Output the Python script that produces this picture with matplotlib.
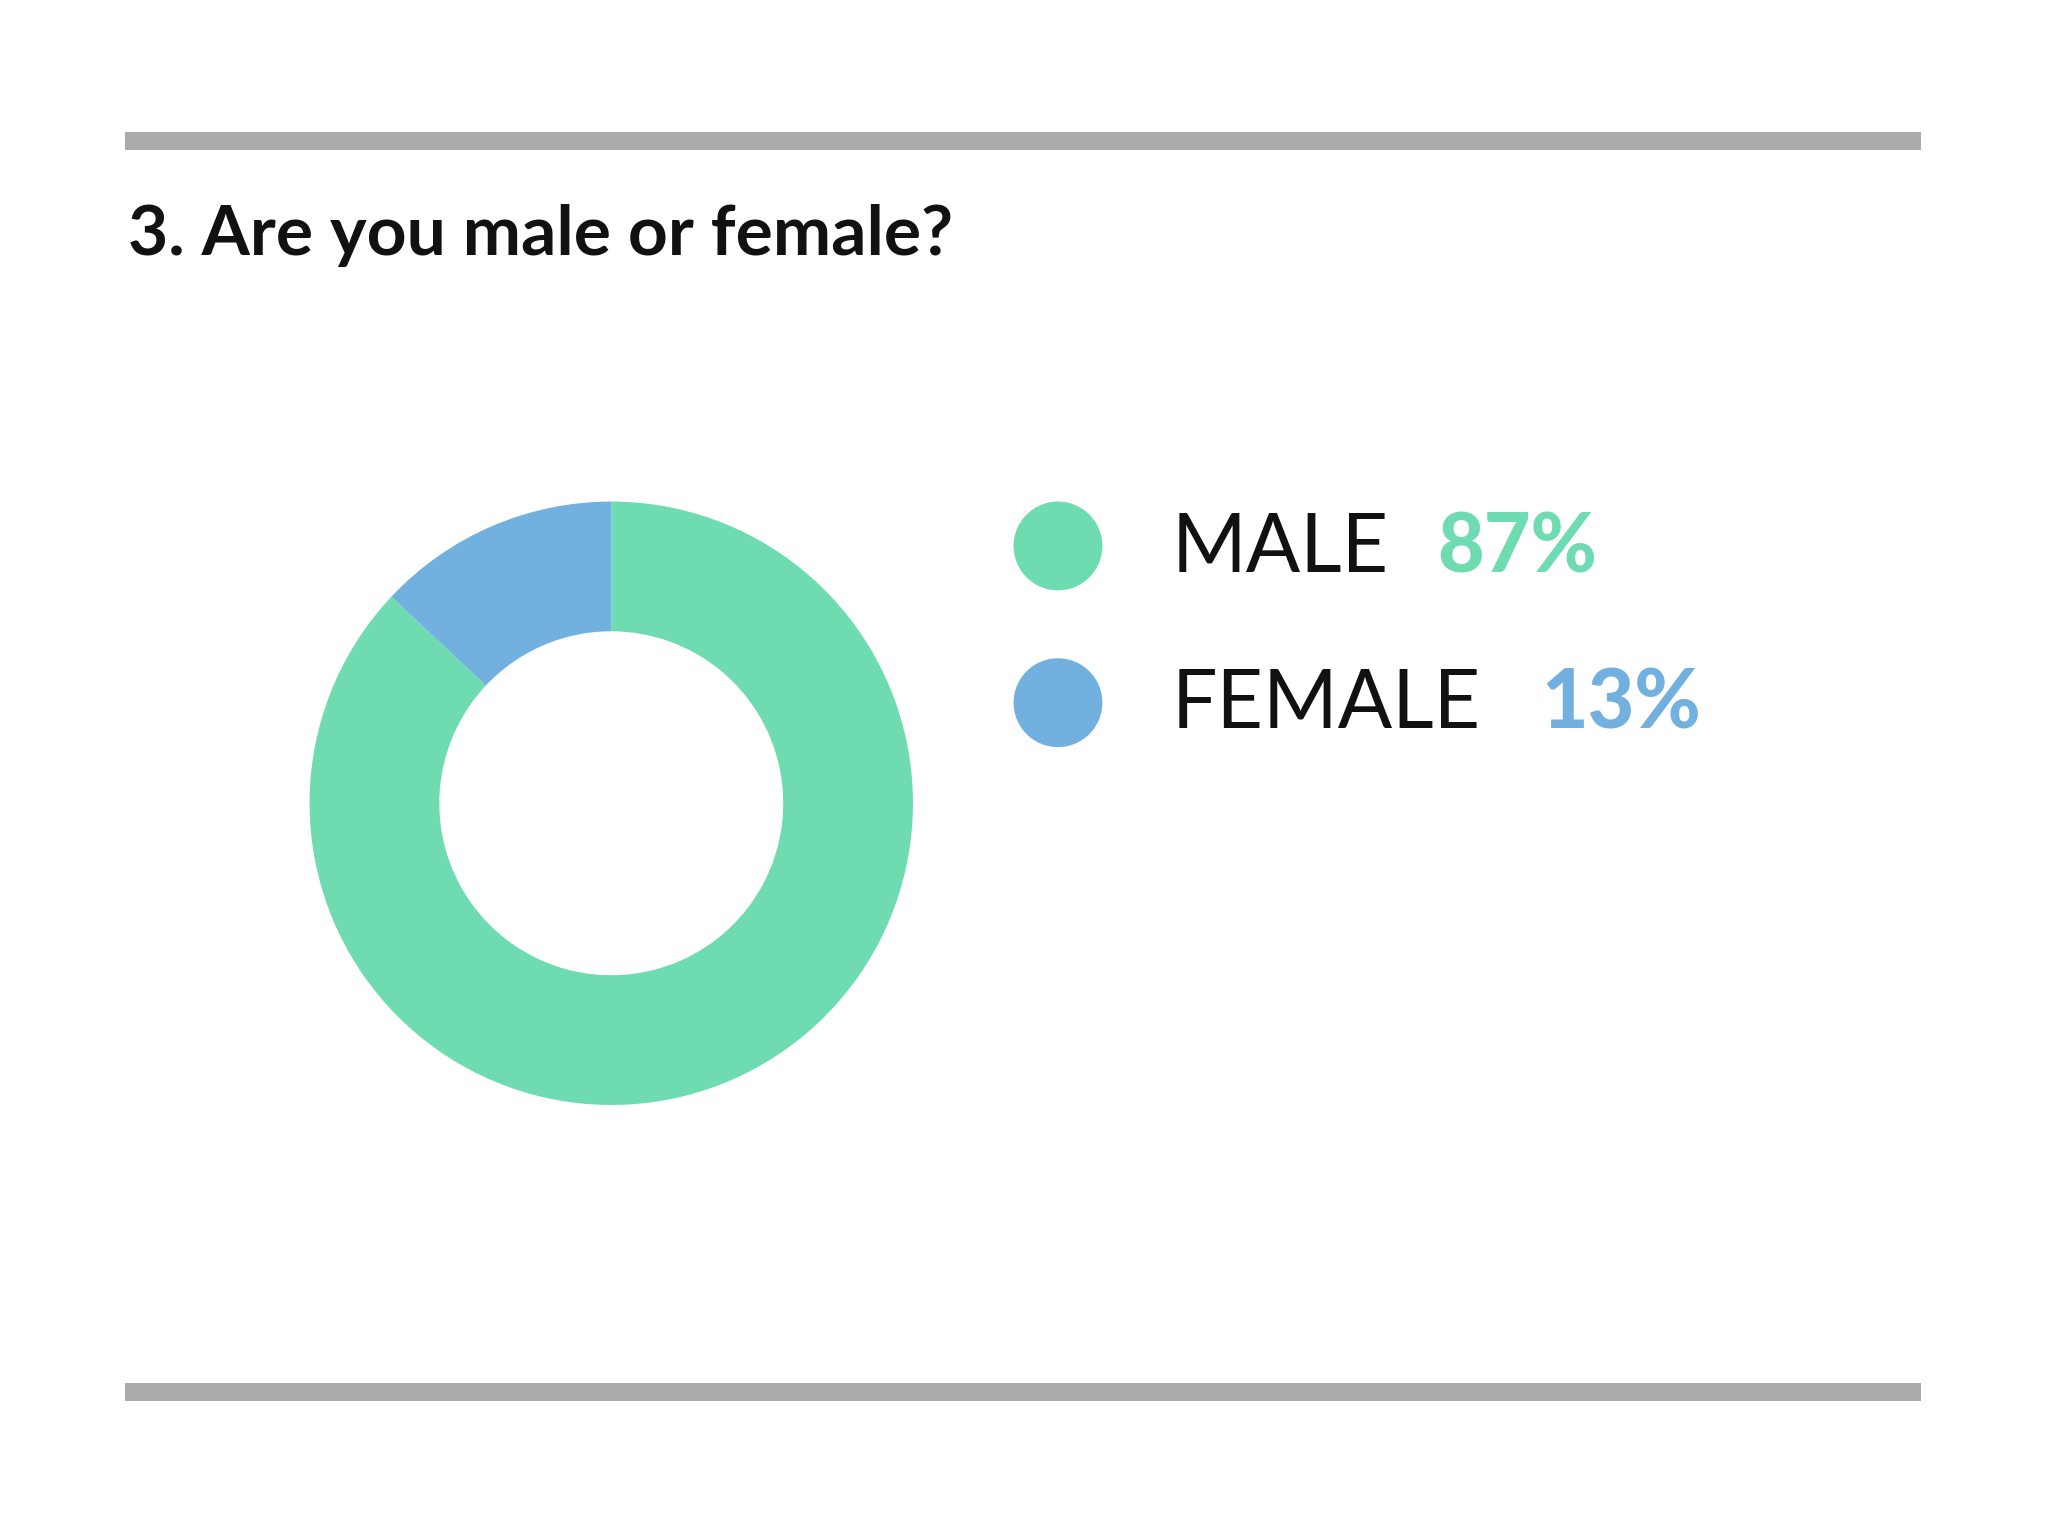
import matplotlib
matplotlib.use("Agg")
import matplotlib.pyplot as plt
from matplotlib.patches import Circle, Rectangle

labels = ["MALE", "FEMALE"]
shares = [87, 13]
colors = ["#6EDBB0", "#72B0E0"]
title = "3. Are you male or female?"

W, H = 1568, 1176  # layout measured on a 1568x1176 grid

fig = plt.figure(figsize=(20.48, 15.36), dpi=100)
fig.patch.set_facecolor("white")

# grey rules top and bottom
for y in (108, 1066):
    fig.patches.append(Rectangle((96 / W, 1 - (y + 7) / H), (1471 - 96) / W, 14 / H,
                                 transform=fig.transFigure, color="#ABABAB", lw=0))

fig.text(98 / W, 1 - 180 / H, title, fontsize=50, fontweight="bold",
         family="Lato", va="center", ha="left", color="#111111")

# donut
r = 231
cx, cy = 468, 615
ax = fig.add_axes([(cx - r) / W, 1 - (cy + r) / H, 2 * r / W, 2 * r / H])
ax.pie(shares, colors=colors, startangle=90, counterclock=False,
       wedgeprops=dict(width=0.43, linewidth=0))
ax.set_aspect("auto")
ax.set_xlim(-1, 1)
ax.set_ylim(-1, 1)
ax.axis("off")

# legend
ys = [418, 538]
pct_x = [1100, 1180]
for label, share, color, y, px in zip(labels, shares, colors, ys, pct_x):
    fig.patches.append(Circle((810 / W * 20.48 * 100, (1 - y / H) * 15.36 * 100), 34 / W * 2048,
                              transform=None, color=color, lw=0))
    fig.text(897 / W, 1 - (y + 2) / H, label, fontsize=58, family="Lato",
             va="center", ha="left", color="#111111")
    fig.text(px / W, 1 - (y + 2) / H, f"{share}%", fontsize=58, fontweight="black",
             family="Lato", va="center", ha="left", color=color)

fig.savefig("out.png", dpi=100)
